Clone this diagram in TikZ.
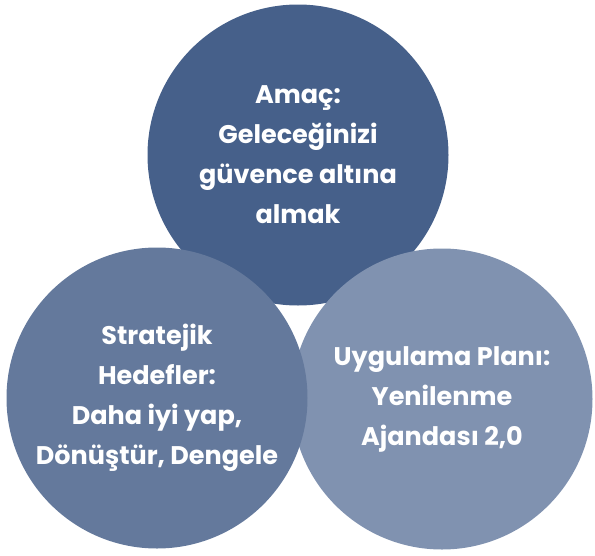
\documentclass[tikz,border=0pt]{standalone}
\usepackage{fontspec}
\setmainfont{Poppins}
\definecolor{goalblue}{RGB}{70,96,138}
\definecolor{stratblue}{RGB}{100,121,156}
\definecolor{planblue}{RGB}{128,146,176}
\begin{document}
\begin{tikzpicture}[x=1pt, y=-1pt,
  bubble/.style={circle, minimum size=301pt, inner sep=0pt, text=white,
    align=center, font=\fontsize{25.5}{40}\selectfont\bfseries}]
  \useasboundingbox (0,0) rectangle (595,555);
  
  % Three circles (top first, then right, then left on top)
  \node[bubble, fill=goalblue] (amac) at (298,155) {Amaç:\\Geleceğinizi\\güvence altına\\almak};
  \node[bubble, fill=planblue] (plan) at (442,399) {Uygulama Planı:\\Yenilenme\\Ajandası 2,0};
  \node[bubble, fill=stratblue] (hedef) at (157,398) {Stratejik\\Hedefler:\\Daha iyi yap,\\Dönüştür, Dengele};
\end{tikzpicture}
\end{document}
